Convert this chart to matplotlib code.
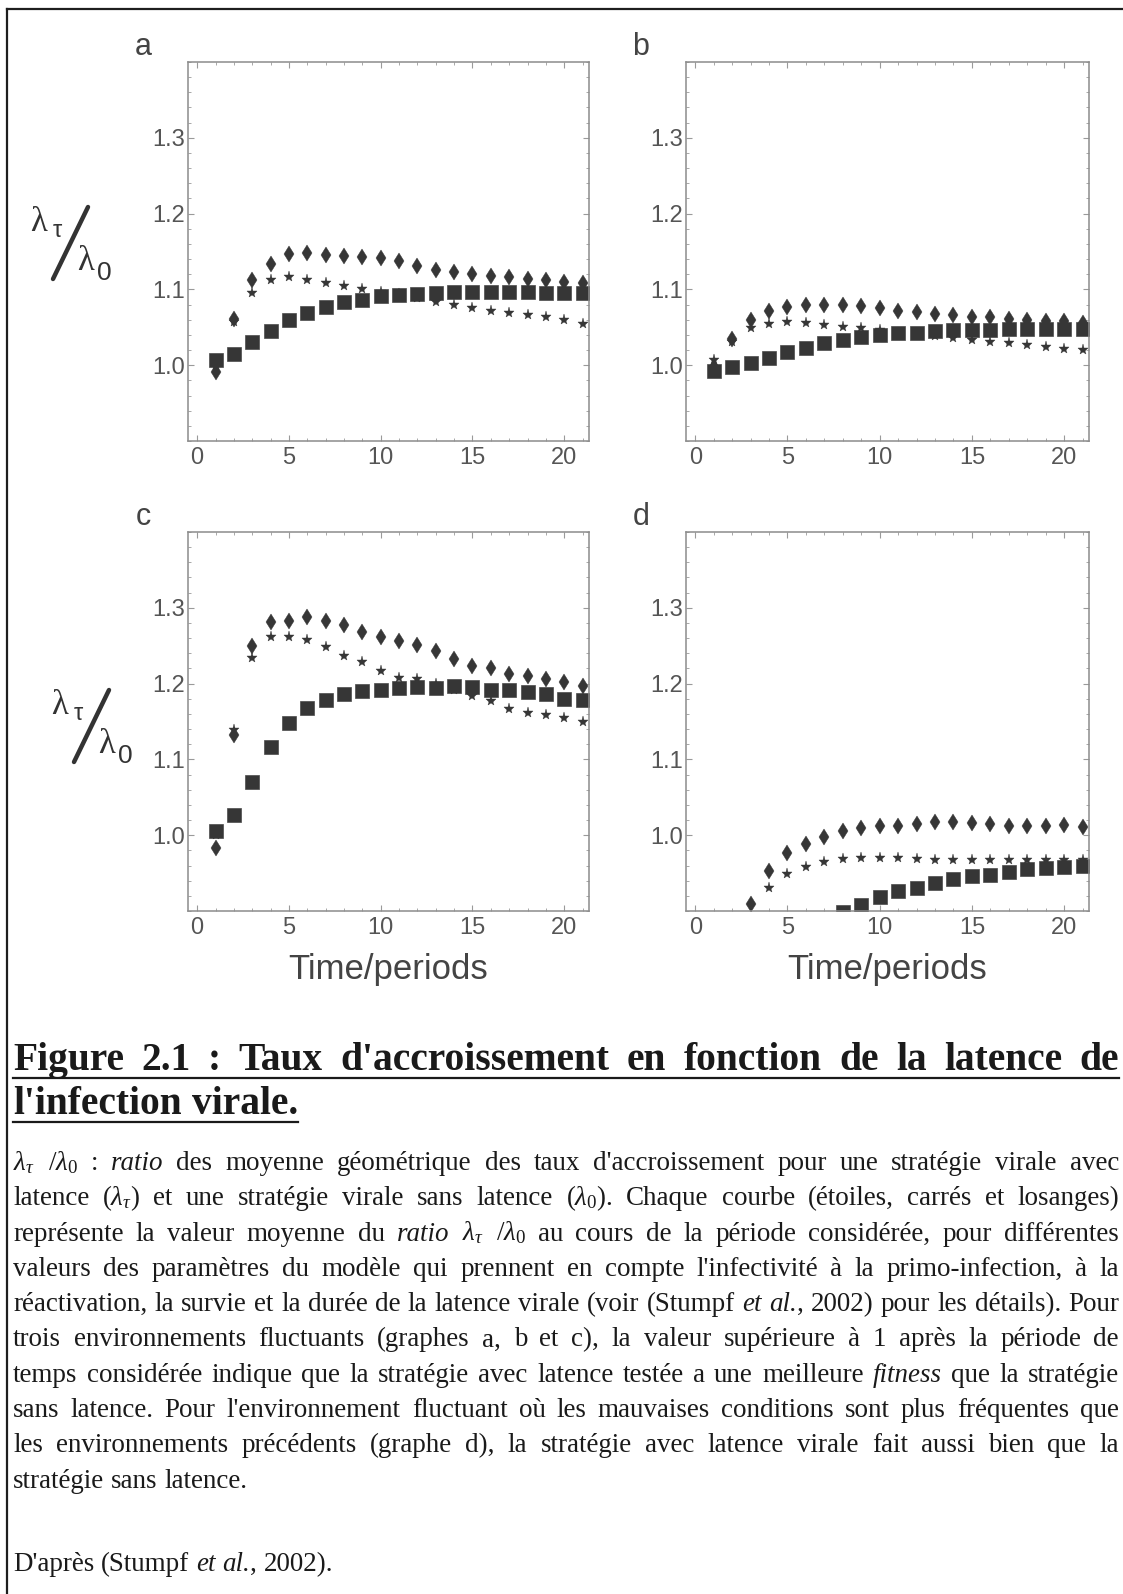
import numpy as np
import matplotlib
matplotlib.use('Agg')
import matplotlib.pyplot as plt
from matplotlib.lines import Line2D
from matplotlib.ticker import MultipleLocator, FormatStrFormatter

nan = np.nan
t = np.arange(1, 22)

# ---- data ----
a_diamond = [0.991, 1.061, 1.112, 1.133, 1.147, 1.148, 1.146, 1.144, 1.143, 1.142, 1.137,
             1.131, 1.125, 1.123, 1.120, 1.118, 1.116, 1.114, 1.113, 1.110, 1.108]
a_star = [1.000, 1.057, 1.095, 1.112, 1.117, 1.112, 1.108, 1.105, 1.101, 1.097, 1.094,
          1.089, 1.084, 1.080, 1.075, 1.072, 1.069, 1.066, 1.063, 1.060, 1.055]
a_square = [1.007, 1.015, 1.030, 1.045, 1.059, 1.069, 1.077, 1.083, 1.086, 1.091, 1.093,
            1.094, 1.095, 1.096, 1.096, 1.096, 1.096, 1.096, 1.095, 1.095, 1.095]

b_diamond = [0.998, 1.034, 1.060, 1.072, 1.077, 1.079, 1.080, 1.079, 1.078, 1.075, 1.072,
             1.070, 1.067, 1.066, 1.064, 1.063, 1.061, 1.060, 1.058, 1.058, 1.056]
b_star = [1.007, 1.031, 1.049, 1.054, 1.057, 1.056, 1.053, 1.051, 1.049, 1.046, 1.043,
          1.041, 1.039, 1.036, 1.033, 1.031, 1.029, 1.027, 1.024, 1.022, 1.020]
b_square = [0.993, 0.998, 1.003, 1.010, 1.018, 1.023, 1.029, 1.033, 1.037, 1.040, 1.042,
            1.043, 1.045, 1.046, 1.047, 1.047, 1.048, 1.048, 1.048, 1.048, 1.048]

c_diamond = [0.983, 1.132, 1.250, 1.281, 1.283, 1.288, 1.282, 1.277, 1.268, 1.262, 1.256,
             1.251, 1.243, 1.233, 1.223, 1.220, 1.213, 1.210, 1.206, 1.202, 1.197]
c_star = [1.000, 1.139, 1.234, 1.261, 1.261, 1.257, 1.248, 1.237, 1.228, 1.216, 1.208,
          1.206, 1.199, 1.192, 1.183, 1.177, 1.167, 1.161, 1.158, 1.154, 1.150]
c_square = [1.006, 1.026, 1.070, 1.117, 1.148, 1.168, 1.178, 1.186, 1.190, 1.192, 1.194,
            1.196, 1.194, 1.197, 1.196, 1.191, 1.191, 1.189, 1.186, 1.180, 1.179]

d_diamond = [nan, nan, 0.909, 0.953, 0.976, 0.988, 0.997, 1.005, 1.009, 1.012, 1.012,
             1.015, 1.017, 1.018, 1.016, 1.015, 1.012, 1.012, 1.012, 1.013, 1.011]
d_star = [nan, nan, nan, 0.931, 0.949, 0.958, 0.965, 0.968, 0.970, 0.970, 0.970,
          0.968, 0.967, 0.967, 0.967, 0.967, 0.967, 0.967, 0.967, 0.967, 0.967]
d_square = [nan, nan, nan, nan, nan, nan, nan, 0.899, 0.908, 0.918, 0.926,
            0.931, 0.937, 0.942, 0.946, 0.948, 0.952, 0.955, 0.957, 0.958, 0.959]

panel_letters = ['a', 'b', 'c', 'd']
x_ticks = [0, 5, 10, 15, 20]
y_ticks = [1.0, 1.1, 1.2, 1.3]
x_label = 'Time/periods'

title_lines = ["Figure 2.1 : Taux d'accroissement en fonction de la latence de",
               "l'infection virale."]
body_lines = [
    r"$\lambda_\tau$ /$\lambda_0$ : *ratio* des moyenne géométrique des taux d'accroissement pour une stratégie virale avec",
    r"latence ($\lambda_\tau$) et une stratégie virale sans latence ($\lambda_0$). Chaque courbe (étoiles, carrés et losanges)",
    r"représente la valeur moyenne du *ratio* $\lambda_\tau$ /$\lambda_0$ au cours de la période considérée, pour différentes",
    r"valeurs des paramètres du modèle qui prennent en compte l'infectivité à la primo-infection, à la",
    r"réactivation, la survie et la durée de la latence virale (voir (Stumpf *et* *al.*, 2002) pour les détails). Pour",
    r"trois environnements fluctuants (graphes a, b et c), la valeur supérieure à 1 après la période de",
    r"temps considérée indique que la stratégie avec latence testée a une meilleure *fitness* que la stratégie",
    r"sans latence. Pour l'environnement fluctuant où les mauvaises conditions sont plus fréquentes que",
    r"les environnements précédents (graphe d), la stratégie avec latence virale fait aussi bien que la",
    r"stratégie sans latence.",
]
source_line = r"D'après (Stumpf *et* *al.*, 2002)."

# ---- figure ----
W, H = 1123, 1594
plt.rcParams['font.family'] = ['Liberation Sans', 'DejaVu Sans']
plt.rcParams['mathtext.fontset'] = 'custom'
plt.rcParams['mathtext.rm'] = 'Liberation Serif'
plt.rcParams['mathtext.it'] = 'Liberation Serif:italic'
plt.rcParams['mathtext.bf'] = 'Liberation Serif:bold'
fig = plt.figure(figsize=(W / 100, H / 100), dpi=100)
fig.patch.set_facecolor('white')

def fx(px):
    return px / W

def fy(py):
    return 1 - py / H

boxes = {'a': (188, 62, 589, 441), 'b': (686, 62, 1089, 441),
         'c': (188, 532, 589, 911), 'd': (686, 532, 1089, 911)}
data = {'a': (a_square, a_diamond, a_star), 'b': (b_square, b_diamond, b_star),
        'c': (c_square, c_diamond, c_star), 'd': (d_square, d_diamond, d_star)}

mk = '#363636'
for key in panel_letters:
    x0, y0, x1, y1 = boxes[key]
    ax = fig.add_axes([fx(x0), fy(y1), fx(x1) - fx(x0), fy(y0) - fy(y1)])
    sq, dm, st = data[key]
    ax.plot(t, sq, ls='none', marker='s', ms=10, color=mk, mec='#4a4a4a', mew=0.5)
    ax.plot(t, dm, ls='none', marker='d', ms=8, color=mk, mec=mk, mew=0.3)
    ax.plot(t, st, ls='none', marker='*', ms=8, color=mk, mec=mk, mew=0.3)
    ax.set_xlim(-0.5, 21.35)
    ax.set_ylim(0.9, 1.4)
    ax.set_xticks(x_ticks)
    ax.set_yticks(y_ticks)
    ax.yaxis.set_major_formatter(FormatStrFormatter('%.1f'))
    ax.xaxis.set_minor_locator(MultipleLocator(1))
    ax.yaxis.set_minor_locator(MultipleLocator(0.02))
    ax.tick_params(which='both', direction='in', top=True, right=True,
                   color='#9a9a9a', labelcolor='#555555', labelsize=17)
    ax.tick_params(which='major', length=4, width=0.8)
    ax.tick_params(which='minor', length=2, width=0.6)
    ax.tick_params(axis='x', pad=4)
    ax.tick_params(axis='y', pad=2)
    for s in ax.spines.values():
        s.set_color('#8c8c8c')
        s.set_linewidth(1.1)
    fig.text(fx(x0 - 45), fy(y0 - 15), key, ha='center', va='center',
             fontsize=22, color='#444444')
    if key in ('c', 'd'):
        fig.text(fx((x0 + x1) / 2), fy(y1 + 59), x_label, ha='center', va='center',
                 fontsize=25, color='#444444')

# y-axis labels (lambda_tau / lambda_0) for a and c
def ratio_label(dx, dy):
    col = '#333333'
    fig.text(fx(30 + dx), fy(231 + dy), 'λ', ha='left', va='baseline',
             fontsize=25, family='Liberation Serif', color=col)
    fig.text(fx(53 + dx), fy(237 + dy), 'τ', ha='left', va='baseline',
             fontsize=17, family='Liberation Sans', color=col)
    fig.text(fx(77 + dx), fy(270 + dy), 'λ', ha='left', va='baseline',
             fontsize=25, family='Liberation Serif', color=col)
    fig.text(fx(97 + dx), fy(280 + dy), '0', ha='left', va='baseline',
             fontsize=19, family='Liberation Sans', color=col)
    fig.add_artist(Line2D([fx(53 + dx), fx(88 + dx)], [fy(279 + dy), fy(207 + dy)],
                          color=col, lw=3.2, solid_capstyle='round'))

ratio_label(0, 0)
ratio_label(21, 483)

# outer frame lines (top and left)
fig.add_artist(Line2D([fx(7), fx(W)], [fy(9), fy(9)], color='#1e1e1e', lw=1.6))
fig.add_artist(Line2D([fx(7), fx(7)], [fy(9), fy(H)], color='#1e1e1e', lw=1.6))

# ---- caption with justified text ----
renderer = fig.canvas.get_renderer()

def parse(word):
    pieces = []
    parts = word.split('*')
    for i, p in enumerate(parts):
        if p:
            pieces.append((p, i % 2 == 1))
    return pieces

def width_of(s, italic, size, weight):
    tt = fig.text(0, 0, s, fontsize=size, family='Liberation Serif',
                  style='italic' if italic else 'normal', weight=weight)
    w = tt.get_window_extent(renderer=renderer).width
    tt.remove()
    return w

def words_width(line, size, weight):
    return sum(width_of(p, it, size, weight) for w in line.split(' ') if w for p, it in parse(w))

def draw_line(line, y, left, right, size, weight='normal', justify=True, color='#1a1a1a'):
    words = [parse(w) for w in line.split(' ') if w]
    widths = [[width_of(p, it, size, weight) for p, it in wd] for wd in words]
    wsum = [sum(ws) for ws in widths]
    space = width_of('a a', False, size, weight) - width_of('aa', False, size, weight)
    if justify and len(words) > 1:
        gap = (right - left - sum(wsum)) / (len(words) - 1)
    else:
        gap = space
    x = left
    for wd, ws in zip(words, widths):
        for (p, it), w in zip(wd, ws):
            fig.text(fx(x), fy(y), p, fontsize=size, family='Liberation Serif',
                     style='italic' if it else 'normal', weight=weight,
                     ha='left', va='baseline', color=color)
            x += w
        x += gap
    return x - gap

LEFT, RIGHT = 13, 1119

# title size: words fill the column with ~17 px gaps
n_title = len(title_lines[0].split(' '))
tw10 = words_width(title_lines[0], 10, 'bold')
title_size = 10 * (RIGHT - LEFT - 17 * (n_title - 1)) / tw10

end1 = draw_line(title_lines[0], 1070, LEFT, RIGHT, title_size, 'bold', True)
end2 = draw_line(title_lines[1], 1114, LEFT, RIGHT, title_size, 'bold', False)
fig.add_artist(Line2D([fx(LEFT), fx(end1)], [fy(1078), fy(1078)], color='#1a1a1a', lw=1.6))
fig.add_artist(Line2D([fx(LEFT), fx(end2)], [fy(1122), fy(1122)], color='#1a1a1a', lw=1.6))

# body font size chosen so the tightest line fills the column
ref_w = words_width(body_lines[4], 10, 'normal')
ref_sp = width_of('a a', False, 10, 'normal') - width_of('aa', False, 10, 'normal')
nwords = len([w for w in body_lines[4].split(' ') if w])
body_size = 10 * (RIGHT - LEFT) / (ref_w + ref_sp * (nwords - 1)) * 0.995

y = 1170
for i, line in enumerate(body_lines):
    draw_line(line, y, LEFT, RIGHT, body_size, 'normal', justify=(i < len(body_lines) - 1))
    y += 35.3
draw_line(source_line, 1571, LEFT, RIGHT, body_size, 'normal', False)

fig.savefig('out.png', dpi=100, facecolor='white')
